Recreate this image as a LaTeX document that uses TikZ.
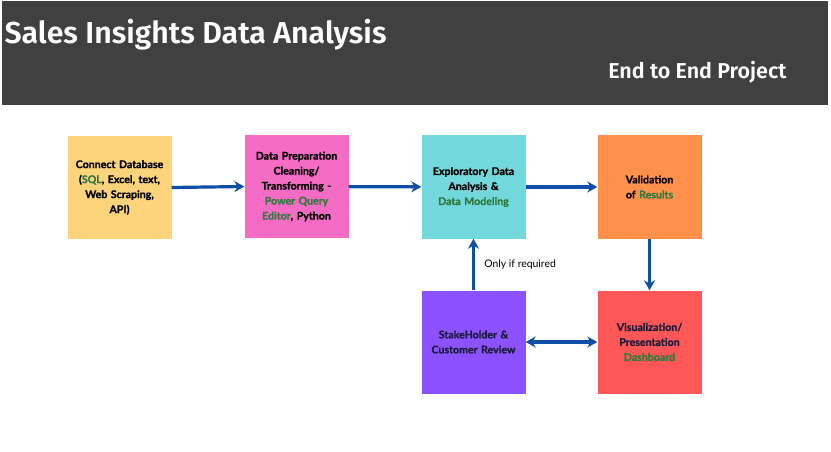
\documentclass[tikz,border=0pt]{standalone}
\usepackage{fontspec}
\setmainfont{Lato}[BoldFeatures={FakeBold=1.2}]
\newfontfamily\headfont{Fira Sans}[UprightFont={* SemiBold}]
\usetikzlibrary{arrows.meta,positioning}

\definecolor{headgray}{HTML}{404040}
\definecolor{flowblue}{HTML}{0D4FA6}
\definecolor{hlgreen}{HTML}{2F7A3C}
\definecolor{boxyellow}{HTML}{FDD37C}
\definecolor{boxpink}{HTML}{F56CC4}
\definecolor{boxcyan}{HTML}{72D8DB}
\definecolor{boxorange}{HTML}{FF914D}
\definecolor{boxpurple}{HTML}{8C52FF}
\definecolor{boxred}{HTML}{FF5757}
\definecolor{darktext}{HTML}{1C1A3A}

\newcommand{\hl}[1]{\textcolor{hlgreen}{#1}}

\begin{document}
\begin{tikzpicture}
[x=1pt, y=-1pt,
    stage/.style={minimum width=103pt, minimum height=103pt, inner sep=2pt,
        align=center, text width=100pt, font=\bfseries\fontsize{10.6}{15}\selectfont},
    flow/.style={draw=flowblue, line width=3.2pt, -{Stealth[length=10pt,width=11pt]}}]
\useasboundingbox (0,0) rectangle (831,452);
\fill[headgray] (2,1) rectangle (828,105);
\node[anchor=west, text=white, font=\headfont\fontsize{30.3}{32}\selectfont] (title) at (1,35) {Sales Insights Data Analysis};
\node[anchor=east, text=white, font=\headfont\fontsize{21.5}{22}\selectfont] (sub) at (790,72) {End to End Project};

% stages
\node[stage, fill=boxyellow] (connect) at (119.5,187.5) {Connect Database\\(\hl{SQL}, Excel, text,\\Web Scraping,\\API)};
\node[stage, fill=boxpink] (prep) at (296.5,186.5) {Data Preparation\\Cleaning/\\Transforming -\\\hl{Power Query}\\\hl{Editor}, Python};
\node[stage, fill=boxcyan] (eda) at (473.5,187) {Exploratory Data\\Analysis \&\\\hl{Data Modeling}};
\node[stage, fill=boxorange] (valid) at (649.5,187) {Validation\\of \hl{Results}};
\node[stage, fill=boxpurple, text=darktext] (review) at (473.5,342) {StakeHolder \&\\Customer Review};
\node[stage, fill=boxred, text=darktext] (viz) at (649.5,342) {Visualization/\\Presentation\\\hl{Dashboard}};

% connectors
\draw[flow] (connect.east) -- (prep.west);
\draw[flow] (prep) -- (eda);
\draw[flow] (eda) -- (valid);
\draw[flow] (valid) -- (viz);
\draw[flow] (review) -- node[right=6pt, text=black, font=\fontsize{10.4}{11}\selectfont] (note) {Only if required} (eda);
\draw[flow, {Stealth[length=10pt,width=11pt]}-{Stealth[length=10pt,width=11pt]}] (review) -- (viz);
\end{tikzpicture}
\end{document}
